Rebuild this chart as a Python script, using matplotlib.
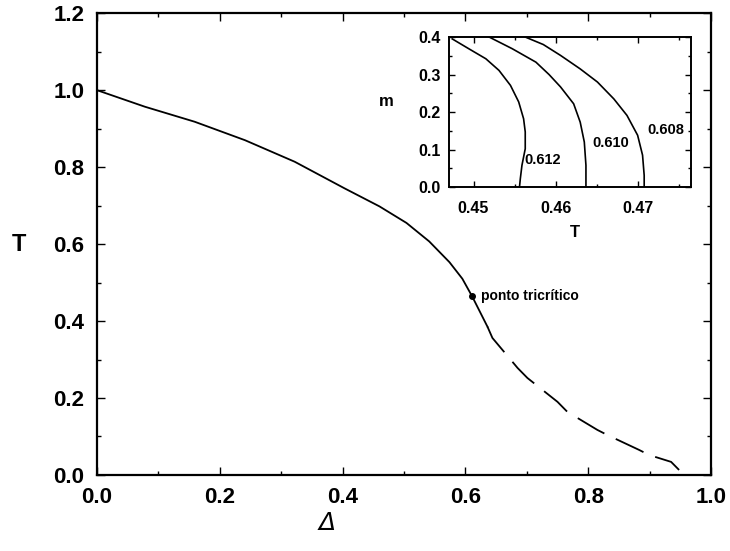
import matplotlib
matplotlib.use("Agg")
import matplotlib.pyplot as plt
from matplotlib.ticker import MultipleLocator

plt.rcParams['font.family'] = ['Liberation Sans', 'DejaVu Sans']
plt.rcParams['font.weight'] = 'bold'

# Main phase boundary: solid (second order) part up to the tricritical point and a bit beyond
delta_solid = [0.0, 0.078, 0.159, 0.241, 0.322, 0.403, 0.46, 0.504, 0.541, 0.574, 0.595, 0.611, 0.636]
t_solid = [1.0, 0.957, 0.918, 0.870, 0.814, 0.745, 0.698, 0.655, 0.607, 0.553, 0.510, 0.464, 0.385]

# Dashed (first order) part
delta_dash = [0.636, 0.644, 0.685, 0.701, 0.75, 0.766, 0.815, 0.831, 0.883, 0.899, 0.935, 0.948]
t_dash = [0.385, 0.356, 0.278, 0.252, 0.19, 0.164, 0.117, 0.104, 0.065, 0.052, 0.034, 0.013]

tric_delta = 0.611
tric_t = 0.464

# Inset: magnetization vs temperature for three values of Delta
inset_labels = ["0.612", "0.610", "0.608"]
inset_t = [
    [0.4474, 0.4494, 0.4515, 0.4531, 0.4545, 0.4555, 0.4561, 0.4563, 0.4563, 0.4559, 0.4557, 0.4556],
    [0.4519, 0.4547, 0.4576, 0.4592, 0.4606, 0.4622, 0.4630, 0.4635, 0.4637, 0.4637],
    [0.4563, 0.4585, 0.4606, 0.4630, 0.4651, 0.4671, 0.4687, 0.4700, 0.4706, 0.4708, 0.4708],
]
inset_m = [
    [0.395, 0.369, 0.342, 0.311, 0.271, 0.227, 0.182, 0.147, 0.102, 0.058, 0.022, 0.0],
    [0.400, 0.369, 0.333, 0.300, 0.267, 0.222, 0.173, 0.120, 0.058, 0.0],
    [0.400, 0.380, 0.351, 0.315, 0.280, 0.235, 0.191, 0.138, 0.085, 0.031, 0.0],
]
label_pos = [(0.4584, 0.072), (0.4667, 0.117), (0.4734, 0.152)]


def style_axes(ax, lw):
	for s in ax.spines.values():
		s.set_linewidth(lw)
	ax.tick_params(which='both', direction='in', top=True, right=True, width=1.0)


def main():
	fig = plt.figure(figsize=(7.3, 5.51), dpi=100)
	ax = fig.add_axes([0.1329, 0.138, 0.8411, 0.838])

	ax.plot(delta_solid, t_solid, color='black', lw=1.3)
	ax.plot(delta_dash, t_dash, color='black', lw=1.3, dashes=(17, 7))
	ax.plot([tric_delta], [tric_t], 'o', color='black', ms=4)
	ax.text(tric_delta + 0.015, tric_t, 'ponto tricrítico', fontsize=10,
		fontweight='bold', va='center', ha='left')

	ax.set_xlim(0, 1.0)
	ax.set_ylim(0, 1.2)
	ax.xaxis.set_major_locator(MultipleLocator(0.2))
	ax.xaxis.set_minor_locator(MultipleLocator(0.1))
	ax.yaxis.set_major_locator(MultipleLocator(0.2))
	ax.yaxis.set_minor_locator(MultipleLocator(0.1))
	ax.xaxis.set_major_formatter(lambda v, p: f"{v:.1f}")
	ax.yaxis.set_major_formatter(lambda v, p: f"{v:.1f}")
	style_axes(ax, 1.6)
	ax.tick_params(which='major', length=6, labelsize=16, pad=9)
	ax.tick_params(which='minor', length=3)
	for lab in ax.get_xticklabels() + ax.get_yticklabels():
		lab.set_fontweight('bold')

	ax.set_ylabel('T', fontsize=17, fontweight='bold', rotation=0, ha='center', va='center')
	ax.yaxis.set_label_coords(-0.127, 0.5)
	ax.set_xlabel('Δ', fontsize=18, fontstyle='italic', fontweight='normal',
		family=['DejaVu Sans'], va='center')
	ax.xaxis.set_label_coords(0.375, -0.104)

	# Inset
	ins = fig.add_axes([0.615, 0.6606, 0.3315, 0.2722])
	for ts, ms in zip(inset_t, inset_m):
		ins.plot(ts, ms, color='black', lw=1.2)
	for lab, (x, y) in zip(inset_labels, label_pos):
		ins.text(x, y, lab, fontsize=10.5, fontweight='bold', ha='center', va='center')
	ins.set_xlim(0.447, 0.4765)
	ins.set_ylim(0, 0.4)
	ins.xaxis.set_major_locator(MultipleLocator(0.01))
	ins.xaxis.set_minor_locator(MultipleLocator(0.005))
	ins.yaxis.set_major_locator(MultipleLocator(0.1))
	ins.yaxis.set_minor_locator(MultipleLocator(0.05))
	ins.xaxis.set_major_formatter(lambda v, p: f"{v:.2f}")
	ins.yaxis.set_major_formatter(lambda v, p: f"{v:.1f}")
	style_axes(ins, 1.4)
	ins.tick_params(which='major', length=4, labelsize=11.5)
	ins.tick_params(axis='y', pad=6)
	ins.tick_params(axis='x', pad=10)
	ins.tick_params(which='minor', length=2)
	for lab in ins.get_xticklabels() + ins.get_yticklabels():
		lab.set_fontweight('bold')
	ins.set_ylabel('m', fontsize=12, fontweight='bold', rotation=0, ha='center', va='center')
	ins.yaxis.set_label_coords(-0.26, 0.567)
	ins.set_xlabel('T', fontsize=12, fontweight='bold', va='center')
	ins.xaxis.set_label_coords(0.52, -0.30)

	fig.savefig('out.png', dpi=100)


if __name__ == '__main__':
	main()
